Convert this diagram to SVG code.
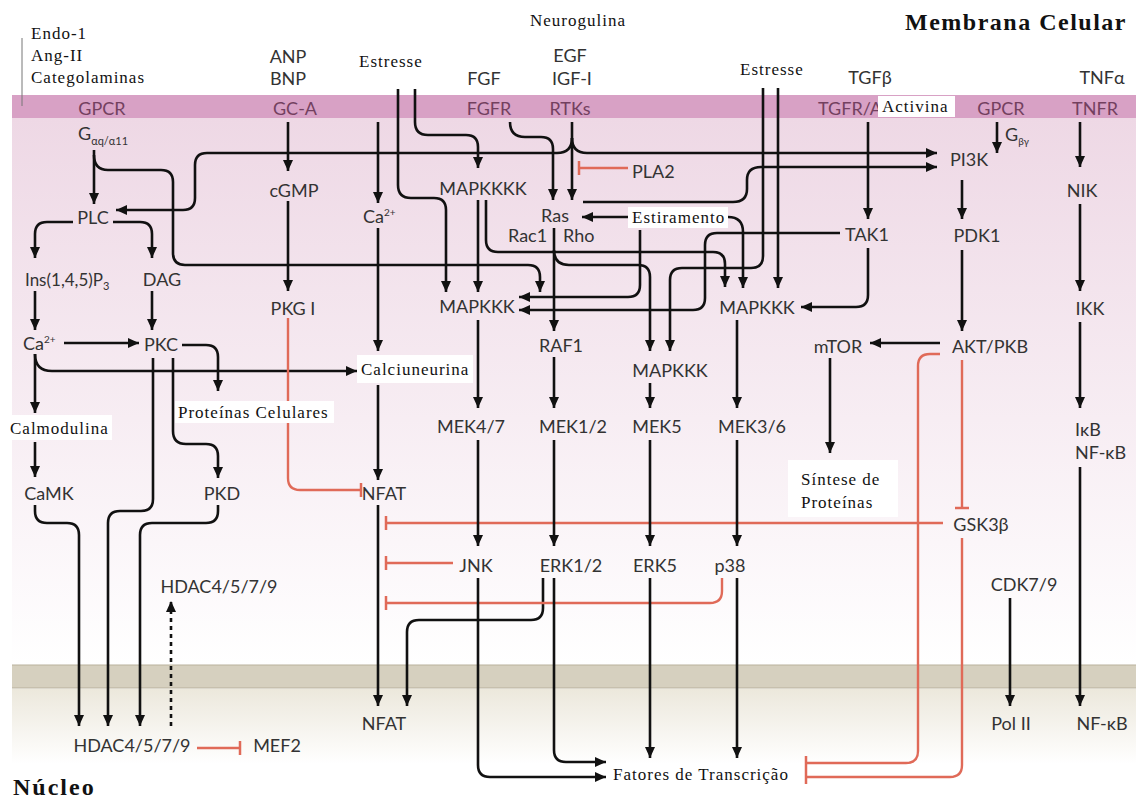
<svg xmlns="http://www.w3.org/2000/svg" width="1136" height="803" viewBox="0 0 1136 803">
<defs>
<linearGradient id="cyto" x1="0" y1="0" x2="0" y2="1">
<stop offset="0" stop-color="#eed8e5"/>
<stop offset="0.55" stop-color="#f7edf3"/>
<stop offset="1" stop-color="#ffffff"/>
</linearGradient>
<linearGradient id="nuc" x1="0" y1="0" x2="0" y2="1">
<stop offset="0" stop-color="#ece8dc"/>
<stop offset="1" stop-color="#ffffff"/>
</linearGradient>
<marker id="ah" markerUnits="userSpaceOnUse" markerWidth="12" markerHeight="10" refX="11" refY="5" orient="auto">
<path d="M0,0 L11,5 L0,10 z" fill="#111"/>
</marker>
<marker id="bar" markerUnits="userSpaceOnUse" markerWidth="4" markerHeight="14" refX="2" refY="7" orient="auto">
<path d="M2,0 L2,14" stroke="#e06a58" stroke-width="2.5"/>
</marker>
<style>
.s{font-family:Lato,"Open Sans",sans-serif;font-size:18px;fill:#333;text-anchor:middle}
.sl{font-family:Lato,"Open Sans",sans-serif;font-size:18px;fill:#333}
.m{font-family:Lato,"Open Sans",sans-serif;font-size:18px;fill:#73405f;text-anchor:middle}
.r{font-family:"Liberation Serif","Times New Roman",serif;font-size:17px;fill:#111;letter-spacing:1px}
.b{font-family:"Liberation Serif","Times New Roman",serif;font-size:24px;font-weight:bold;fill:#111;letter-spacing:1.5px}
.k{fill:none;stroke:#111;stroke-width:2.6;marker-end:url(#ah)}
.rd{fill:none;stroke:#e06a58;stroke-width:2.4;marker-end:url(#bar)}
.dash{fill:none;stroke:#111;stroke-width:2.6;stroke-dasharray:4 4;marker-end:url(#ah)}
.box{fill:#fff}
</style>
</defs>
<rect width="1136" height="803" fill="#fff"/>
<g id="background">
<rect x="12" y="118" width="1124" height="547" fill="url(#cyto)"/>
<rect x="12" y="95" width="1124" height="23" fill="#d8a1c5"/>
<rect x="12" y="665" width="1124" height="23" fill="#d6d0bf"/>
<line x1="12" y1="665" x2="1136" y2="665" stroke="#b9b19c" stroke-width="1"/>
<line x1="12" y1="688" x2="1136" y2="688" stroke="#b9b19c" stroke-width="1"/>
<rect x="12" y="689" width="1124" height="75" fill="url(#nuc)"/>
<line x1="22" y1="38" x2="22" y2="106" stroke="#777" stroke-width="1"/>
</g>

<g id="connectors">
<path class="k" d="M94,150 L94,204"/>
<path class="k" d="M94,155 Q94,170 108,170 L161,170 Q173,170 173,182 L173,253 Q173,265 185,265 L528,265 Q540,265 540,277 L540,292"/>
<path class="k" d="M572,138 Q572,153 557,153 L207,153 Q195,153 195,165 L195,198 Q195,210 183,210 L116,210"/>
<path class="k" d="M572,138 Q572,153 587,153 L937,153"/>
<path class="k" d="M572,122 L572,200"/>
<path class="k" d="M73,222 L47,222 Q35,222 35,234 L35,258"/>
<path class="k" d="M113,222 L140,222 Q152,222 152,234 L152,258"/>
<path class="k" d="M35,291 L35,330"/>
<path class="k" d="M152,291 L152,330"/>
<path class="k" d="M64,343 L139,343"/>
<path class="k" d="M35,354 Q35,371 52,371 L357,371"/>
<path class="k" d="M35,354 L35,413"/>
<path class="k" d="M35,442 L35,477"/>
<path class="k" d="M182,345 L206,345 Q218,345 218,357 L218,391"/>
<path class="k" d="M173,358 L173,431 Q173,444 186,444 L206,444 Q218,444 218,456 L218,478"/>
<path class="k" d="M153,358 L153,499 Q153,511 141,511 L120,511 Q108,511 108,523 L108,726"/>
<path class="k" d="M35,505 L35,511 Q35,523 47,523 L67,523 Q79,523 79,535 L79,726"/>
<path class="k" d="M218,505 L218,511 Q218,523 206,523 L152,523 Q140,523 140,535 L140,726"/>
<path class="dash" d="M171,726 L171,601"/>
<path class="rd" d="M197,748 L240,748"/>
<path class="k" d="M288,122 L288,171"/>
<path class="k" d="M288,201 L288,291"/>
<path class="rd" d="M288,318 L288,478 Q288,490 300,490 L361,490"/>
<path class="k" d="M378,122 L378,203"/>
<path class="k" d="M378,228 L378,351"/>
<path class="k" d="M378,385 L378,480"/>
<path class="k" d="M378,505 L378,706"/>
<path class="k" d="M543,578 L543,608 Q543,620 531,620 L419,620 Q407,620 407,632 L407,706"/>
<path class="rd" d="M943,523 L386,523"/>
<path class="rd" d="M453,563 L386,563"/>
<path class="rd" d="M722,578 L722,591 Q722,603 710,603 L386,603"/>
<path class="k" d="M415,89 L415,122 Q415,135 428,135 L466,135 Q478,135 478,147 L478,168"/>
<path class="k" d="M398,89 L398,185 Q398,198 411,198 L434,198 Q446,198 446,210 L446,292"/>
<path class="k" d="M510,122 Q510,137 525,137 L541,137 Q553,137 553,149 L553,200"/>
<path class="rd" d="M628,168 L579,168"/>
<path class="k" d="M478,200 L478,292"/>
<path class="k" d="M486,200 L486,240 Q486,252 498,252 L713,252 Q725,252 725,264 L725,287"/>
<path class="k" d="M554,228 L554,331"/>
<path class="k" d="M554,250 Q554,265 569,265 L638,265 Q650,265 650,277 L650,351"/>
<path class="k" d="M628,217 L582,217"/>
<path class="k" d="M583,202 L733,202 Q747,202 747,189 L747,180 Q747,167 761,167 L937,167"/>
<path class="k" d="M640,230 L640,285 Q640,297 628,297 L519,297"/>
<path class="k" d="M840,233 L717,233 Q705,233 705,245 L705,298 Q705,310 693,310 L519,310"/>
<path class="k" d="M728,217 Q743,217 743,232 L743,288"/>
<path class="k" d="M778,88 L778,288"/>
<path class="k" d="M763,88 L763,256 Q763,268 751,268 L682,268 Q670,268 670,280 L670,351"/>
<path class="k" d="M868,248 L868,295 Q868,307 856,307 L801,307"/>
<path class="k" d="M868,122 L868,219"/>
<path class="k" d="M478,320 L478,408"/>
<path class="k" d="M554,357 L554,408"/>
<path class="k" d="M650,383 L650,408"/>
<path class="k" d="M737,320 L737,408"/>
<path class="k" d="M478,440 L478,546"/>
<path class="k" d="M554,440 L554,546"/>
<path class="k" d="M650,440 L650,546"/>
<path class="k" d="M737,440 L737,546"/>
<path class="k" d="M478,578 L478,765 Q478,777 490,777 L606,777"/>
<path class="k" d="M554,578 L554,750 Q554,762 566,762 L606,762"/>
<path class="k" d="M650,578 L650,758"/>
<path class="k" d="M737,578 L737,758"/>
<path class="k" d="M997,122 L997,153"/>
<path class="k" d="M962,180 L962,219"/>
<path class="k" d="M962,250 L962,331"/>
<path class="k" d="M940,343 L870,343"/>
<path class="k" d="M830,358 L830,453"/>
<path class="rd" d="M962,360 L962,508"/>
<path class="rd" d="M940,354 L930,354 Q918,354 918,366 L918,751 Q918,763 906,763 L806,763"/>
<path class="rd" d="M962,538 L962,765 Q962,777 950,777 L806,777"/>
<path class="k" d="M1080,122 L1080,167"/>
<path class="k" d="M1080,204 L1080,291"/>
<path class="k" d="M1080,322 L1080,408"/>
<path class="k" d="M1080,467 L1080,706"/>
<path class="k" d="M1010,598 L1010,706"/>
</g>

<g id="titles">
<text class="b" x="905" y="30">Membrana Celular</text>
<text class="b" x="13" y="795" style="letter-spacing:2px">Núcleo</text>
</g>
<g id="ligand-endo"><text class="r" x="31" y="39">Endo-1</text><text class="r" x="31" y="61">Ang-II</text><text class="r" x="31" y="83">Categolaminas</text></g>
<g id="ligand-anp"><text class="s" x="288" y="63">ANP</text><text class="s" x="288" y="85">BNP</text></g>
<g id="stress1"><text class="r" x="359" y="67">Estresse</text></g>
<g id="ligand-fgf"><text class="s" x="484" y="85">FGF</text></g>
<g id="neuregulin"><text class="r" x="530" y="26">Neurogulina</text></g>
<g id="ligand-egf"><text class="s" x="570" y="62">EGF</text><text class="s" x="572" y="85">IGF-I</text></g>
<g id="stress2"><text class="r" x="740" y="75">Estresse</text></g>
<g id="ligand-tgf"><text class="s" x="870" y="84">TGFβ</text></g>
<g id="ligand-tnf"><text class="s" x="1102" y="84">TNFα</text></g>

<g id="gpcr1"><text class="m" x="102" y="115">GPCR</text></g>
<g id="gca"><text class="m" x="295" y="115">GC-A</text></g>
<g id="fgfr"><text class="m" x="489" y="115">FGFR</text></g>
<g id="rtks"><text class="m" x="570" y="115">RTKs</text></g>
<g id="tgfr"><text class="m" x="818" y="115" style="text-anchor:start">TGFR/A</text><rect class="box" x="878" y="96" width="77" height="21"/><text class="r" x="882" y="112">Activina</text></g>
<g id="gpcr2"><text class="m" x="1001" y="115">GPCR</text></g>
<g id="tnfr"><text class="m" x="1095" y="115">TNFR</text></g>

<g id="galpha"><text class="sl" x="78" y="140">G<tspan font-size="11" dy="5">αq/α11</tspan></text></g>
<g id="plc"><text class="s" x="93" y="224">PLC</text></g>
<g id="ip3"><text class="sl" x="25" y="286" style="font-size:17px">Ins(1,4,5)P<tspan font-size="11" dy="4">3</tspan></text></g>
<g id="dag"><text class="s" x="162" y="286">DAG</text></g>
<g id="ca-left"><text class="sl" x="23" y="350">Ca<tspan font-size="10" dy="-7">2+</tspan></text></g>
<g id="pkc"><text class="s" x="161" y="351">PKC</text></g>
<g id="proteinas-cel"><rect class="box" x="175" y="401" width="159" height="22"/><text class="r" x="178" y="418">Proteínas Celulares</text></g>
<g id="calmodulina"><rect class="box" x="8" y="415" width="104" height="25"/><text class="r" x="10" y="434">Calmodulina</text></g>
<g id="camk"><text class="s" x="49" y="500">CaMK</text></g>
<g id="pkd"><text class="s" x="222" y="500">PKD</text></g>
<g id="hdac-cyt"><text class="s" x="219" y="593">HDAC4/5/7/9</text></g>
<g id="hdac-nuc"><text class="s" x="132" y="752">HDAC4/5/7/9</text></g>
<g id="mef2"><text class="s" x="277" y="752">MEF2</text></g>

<g id="cgmp"><text class="s" x="294" y="197">cGMP</text></g>
<g id="pkg"><text class="s" x="293" y="315">PKG I</text></g>
<g id="ca-mid"><text class="sl" x="363" y="223">Ca<tspan font-size="10" dy="-7">2+</tspan></text></g>
<g id="calcineurin"><rect class="box" x="357" y="355" width="116" height="28"/><text class="r" x="361" y="375">Calciuneurina</text></g>
<g id="nfat-cyt"><text class="s" x="384" y="500">NFAT</text></g>
<g id="nfat-nuc"><text class="s" x="384" y="730">NFAT</text></g>

<g id="mapkkkk"><text class="s" x="483" y="195">MAPKKKK</text></g>
<g id="pla2"><text class="sl" x="632" y="178">PLA2</text></g>
<g id="ras"><text class="s" x="555" y="222">Ras</text></g>
<g id="rac-rho"><text class="sl" x="508" y="242">Rac1</text><text class="sl" x="563" y="242">Rho</text></g>
<g id="estiramento"><rect class="box" x="628" y="207" width="100" height="21"/><text class="r" x="632" y="223">Estiramento</text></g>
<g id="mapkkk-l"><text class="s" x="477" y="313">MAPKKK</text></g>
<g id="mapkkk-r"><text class="s" x="757" y="314">MAPKKK</text></g>
<g id="raf1"><text class="s" x="561" y="352">RAF1</text></g>
<g id="mapkkk-m"><text class="s" x="670" y="377">MAPKKK</text></g>
<g id="mek47"><text class="s" x="471" y="433">MEK4/7</text></g>
<g id="mek12"><text class="s" x="573" y="433">MEK1/2</text></g>
<g id="mek5"><text class="s" x="657" y="433">MEK5</text></g>
<g id="mek36"><text class="s" x="752" y="433">MEK3/6</text></g>
<g id="jnk"><text class="s" x="476" y="572">JNK</text></g>
<g id="erk12"><text class="s" x="571" y="572">ERK1/2</text></g>
<g id="erk5"><text class="s" x="655" y="572">ERK5</text></g>
<g id="p38"><text class="s" x="730" y="572">p38</text></g>
<g id="fatores"><text class="r" x="613" y="780">Fatores de Transcrição</text></g>

<g id="tak1"><text class="s" x="867" y="241">TAK1</text></g>
<g id="pi3k"><text class="s" x="969" y="166">PI3K</text></g>
<g id="gbg"><text class="sl" x="1005" y="141">G<tspan font-size="10" dy="4">βγ</tspan></text></g>
<g id="pdk1"><text class="s" x="977" y="242">PDK1</text></g>
<g id="akt"><text class="s" x="990" y="353">AKT/PKB</text></g>
<g id="mtor"><text class="s" x="838" y="353">mTOR</text></g>
<g id="sintese"><rect class="box" x="788" y="460" width="110" height="57"/><text class="r" x="801" y="485">Síntese de</text><text class="r" x="801" y="508">Proteínas</text></g>
<g id="gsk3b"><text class="s" x="981" y="531">GSK3β</text></g>
<g id="cdk79"><text class="s" x="1024" y="591">CDK7/9</text></g>
<g id="pol2"><text class="s" x="1011" y="730">Pol II</text></g>
<g id="nik"><text class="s" x="1082" y="197">NIK</text></g>
<g id="ikk"><text class="s" x="1090" y="315">IKK</text></g>
<g id="ikb"><text class="sl" x="1075" y="436">IκB</text><text class="sl" x="1075" y="459">NF-κB</text></g>
<g id="nfkb-nuc"><text class="s" x="1102" y="730">NF-κB</text></g>
</svg>
